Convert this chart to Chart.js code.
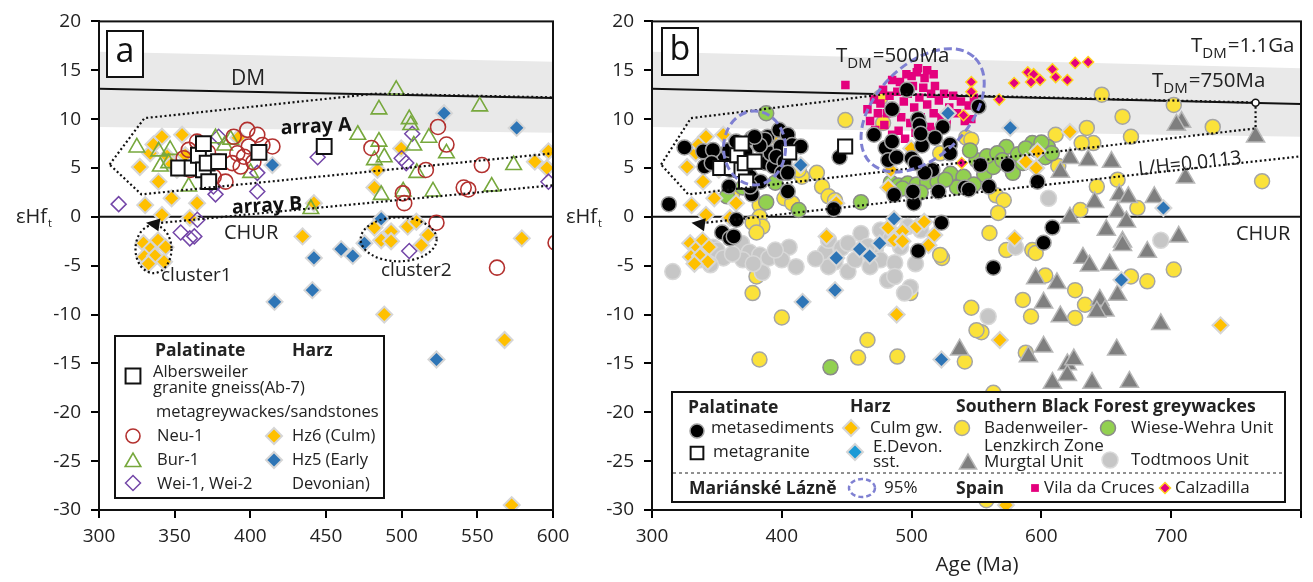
<!DOCTYPE html>
<html><head><meta charset="utf-8">
<script src="https://cdn.jsdelivr.net/npm/chart.js@4.4.1/dist/chart.umd.min.js"></script>
<style>
html,body{margin:0;padding:0;background:#fff;}
#wrap{position:relative;width:1313px;height:582px;overflow:hidden;background:#fff;}
#ca{position:absolute;left:0;top:0;width:600px;height:582px;}
#cb{position:absolute;left:560px;top:0;width:753px;height:582px;}
</style></head><body>
<div id="wrap"><canvas id="ca" width="600" height="582"></canvas><canvas id="cb" width="753" height="582"></canvas></div>
<script>
// ---------- DATA (Age Ma, eHf_t) ----------
const neu1 = [[356,6.0],[359.3,6.85],[364.8,7.7],[367,5.15],[360.4,4.8],[375.8,4.1],[383.6,3.6],[379,5.65],[388,5.5],[393.6,5.15],[391.4,6.5],[389,8.2],[398,8.9],[404.6,8.4],[399,7.2],[408,7.35],[414.6,7.2],[395.8,6.15],[402,5.6],[372,6.6],
 [480,7.05],[524,9.2],[529.6,7.4],[516,4.8],[553,5.3],[541,3.0],[544,2.8],[500.8,2.4],[501.7,1.4],[523,-0.6],[563,-5.2],[608.5,-1.1],[601.7,-2.65]];
const bur1 = [[325,7.1],[339.4,6.7],[347,6.85],[340.5,5.15],[346,5.5],[359.3,3.1],[377,8.05],[387,7.9],[383,7.3],[400.2,4.5],[440,0.8],
 [471,8.4],[482,5.8],[485,11.0],[485,7.7],[486.5,2.25],[488.5,6.1],[496.4,13.0],[501,2.6],[505,10.0],[506,9.4],[508,7.3],[510,4.5],[518,8.1],[520.7,2.6],[529.6,6.5],[551.6,11.3],[559.5,3.1],[574,5.3]];
const wei = [[313,1.3],[354,-1.6],[360,-2.2],[363,-2.0],[365,-0.3],[377,2.3],[375.6,3.1],[379,8.2],[404.6,2.6],[404.6,4.5],[444.5,6.1],[500,6.0],[503,5.5],[507,8.5],[505,-3.5],[597,3.6]];
const albersweiler = [[352.6,5.0],[361.5,5.0],[365.7,6.3],[369,7.5],[369,4.8],[371.5,5.5],[372.5,3.6],[379,5.65],[405.7,6.6],[448.8,7.2]];
const culm = [[327,5.1],[330.5,1.2],[333.8,6.5],[336,7.4],[339.3,3.6],[341.6,8.2],[341.6,0.2],[345,6.2],[348,1.9],[351.5,4.8],[354.9,8.4],[360,-0.1],[364.8,1.4],[348,5.4],[357,6.3],
 [329.4,-2.7],[334,-3.3],[339,-2.4],[344,-3.1],[330,-4.1],[337,-4.0],[343,-4.6],[332.7,-4.8],
 [392,8.1],[442,1.4],[434.5,-2.0],[482,3.0],[484,4.8],[499.7,7.0],[482,-1.1],[486.5,-2.4],[493,-1.5],[493,-2.5],[504,-1.0],[509.7,-0.5],[513,-2.9],[517.5,-1.85],[488.5,-10.0],[568,-12.6],[572.7,-29.5],[579.4,-2.2],[588,5.65],[597,6.7],[596,5.0],[622,8.7],[738,-11.1]];
const eDevon = [[414.6,5.3],[416,-8.7],[441,-7.5],[442,-4.2],[460,-3.3],[467.7,-4.0],[475.4,-2.7],[486.5,-0.2],[523,-14.6],[528,10.6],[576,9.1],[661.6,-6.45],[694,0.9]];
const vilaCruces = [[449,13.5],[466,11.0],[468,9.8],[471,12.0],[474,10.6],[476,11.6],[478,13.0],[479,9.4],[481,10.6],[483,12.4],[485,14.0],[487,11.0],[489,12.8],[491,13.8],[492,10.2],[494,11.8],[496,14.6],[497,12.6],[499,9.6],[501,13.4],[502,11.2],[504,14.8],[506,12.2],[507,10.2],[509,13.2],[510,14.2],[512,11.5],[514,9.2],[515,12.6],[517,10.6],[518,13.4],[520,8.8],[521,11.9],[523,10.2],[525,12.6],[527,9.6],[529,11.2],[532,12.4],[535,10.6],[538,11.8],[541,9.8],[544,11.4],[548,12.2],
 [505,15.2],[512,15.0],[517,14.6],[500,14.4],[485,8.4],[490,8.8],[495,8.0],[503,8.6],[546,10.0],[472,8.9]];
const calzadilla = [[626,15.75],[636,15.85],[579,13.7],[589.5,14.8],[594,14.6],[599,14.0],[608.5,15.1],[611,14.3],[620,14.0],[592,13.8],[567.5,12.0],[546,13.8],[546,12.8],[540,10.4],[538.6,5.5]];
const badenweiler = [[646.5,12.5],[702,11.45],[732,9.2],[662.5,10.25],[669,8.2],[635,9.1],[640,7.55],[631,7.55],[611,8.4],[613,5.2],[658.7,3.8],[642.7,3.1],[770,3.65],[565,2.2],[571,1.7],[566.7,0.4],[630,0.7],[674,0.9],[560,-1.65],[593,-3.4],[573,-3.4],[595.6,-3.7],
 [702,-5.4],[681.6,-6.6],[669,-6.1],[626,-7.5],[633.6,-9.0],[626,-10.35],[592,-10.2],[585.7,-8.5],[603,-6.0],[546,-9.3],[553.8,-11.8],[550,-11.6],[588,-13.9],[541,-14.8],[563,-18.0],[557.6,-29.0],
 [377.5,-7.8],[400,-10.3],[382.8,-14.6],[466,-12.6],[458.8,-14.4],[489,-14.3],[523.4,-4.2],[499,-7.8],[380.5,-6.1],
 [415.5,4.1],[427,4.5],[431,3.1],[436,2.1],[402,1.9],[408,1.4],[383,1.2],[383,0.0],[385,-1.0],[362,2.45],[377.5,-0.6],[380.5,-1.6],[413,4.8],[441,1.7],
 [449,9.9],[478,9.6],[522,6.5],[542,8.1],[546,7.9],[476,12.2],[522,-3.9]];
const wieseWehra = [[388,10.6],[357.8,2.1],[388,1.5],[413,0.7],[375,5.3],[370,3.0],[395,3.5],[400,6.5],[461,1.5],[484,3.5],[490,3.2],[497,3.4],[504,3.3],[512,3.6],[520,3.6],[530,4.4],[540,4.1],[550,5.8],[556,4.3],[563,5.1],[573,7.15],[578,4.5],[585.7,5.5],[593,7.55],[603,6.1],[605,7.15],[437.5,-15.4],
 [545,6.8],[558,6.2],[566,6.5],[570,5.8],[582,6.4],[588,7.0],[597,6.8],[600,7.6],[608,6.5],[548,3.3],[535,3.0],[526,3.8],[507,2.5],[493,2.9]];
const murgtal = [[708,9.7],[704,9.4],[765,8.2],[711,4.0],[622,6.0],[636,5.8],[654,5.6],[614.6,4.6],[641,1.5],[660,2.25],[667,2.0],[687,2.0],[658.7,0.5],[665.5,-0.5],[622,-0.1],[650,-1.35],[662.5,-2.55],[681.6,-3.6],[705.8,-2.05],[632,-4.2],[637,-5.0],[652.6,-4.9],[662.5,-2.9],[595.6,-6.3],[612,-6.8],[658.7,-8.0],[645,-8.5],[649,-9.6],[642.7,-9.7],[601.7,-8.8],[614.6,-10.2],[692,-11.0],[537,-13.6],[601.7,-13.3],[590,-14.3],[658,-13.6],[620,-15.1],[625,-14.6],[620,-16.2],[639,-17.0],[667.8,-16.9],[608.5,-17.0]];
const todtmoos = [[316,-5.6],[337,-4.4],[342.5,-3.7],[347,-3.1],[350,-3.4],[369,-2.7],[375,-3.6],[383,-3.9],[370,-4.4],[385,-5.7],[390,-4.2],[405.6,-3.1],[400,-4.4],[411,-5.1],[433.7,-3.6],[436,-2.4],[441,-4.6],[446,-3.2],[451,-5.6],[451,-2.7],[456.5,-4.4],[461,-1.7],[472,-3.4],[476,-4.4],[476,-1.35],[487,-4.7],[481.6,-6.5],[491.5,-3.1],[487,-6.1],[499,-7.2],[494.5,-7.8],[497,-1.0],[507,-1.35],[436,-5.1],[605.5,1.9],[580,-3.1],[692,-2.4],[559,-10.2],[355,-4.2],[362,-3.8],
 [345,-4.9],[378,-4.8],[395,-3.4],[426,-4.3],[466,-3.0],[468,-5.1],[484,-2.2],[503,-4.8]];
const yTicks = [-30,-25,-20,-15,-10,-5,0,5,10,15,20];
const xTicksA = [300,350,400,450,500,550,600];
const xTicksB = [300,400,500,600,700];

// ---------- helpers ----------
const FONT = '"Open Sans", "Noto Sans", sans-serif';
const toXY = a => a.map(p => ({x: p[0], y: p[1]}));
function ds(data, style, r, fill, border, bw) {
  return {data: toXY(data), pointStyle: style, pointRadius: r, pointHoverRadius: r,
    pointBackgroundColor: fill, pointBorderColor: border, pointBorderWidth: bw, showLine: false};
}
const ORANGE = '#ffc000', BLUE = '#2e75b6', RED = '#b3312f', GREEN = '#77a83d', PURPLE = '#7447a8';
const YELLOW = '#fbe23a', LGREEN = '#92d050', TRI = '#7f7f7f', LGRAY = '#c6c6c6', PINK = '#e4007d';

function mkScales(xmax, xstep, yw, labelsX) {
  return {
    x: {type: 'linear', min: 300, max: xmax,
      ticks: {stepSize: xstep, autoSkip: false, maxRotation: 0, color: '#222', padding: 7,
        font: {family: FONT, size: 19}, callback: v => labelsX.includes(v) ? String(v) : ''},
      grid: {display: true, drawOnChartArea: false, drawTicks: true, tickLength: 8, color: '#000', lineWidth: 2},
      border: {display: true, color: '#000', width: 2},
      afterFit: s => { s.height = 72; }},
    y: {type: 'linear', min: -30, max: 20,
      ticks: {stepSize: 5, autoSkip: false, color: '#222', padding: 10,
        font: {family: FONT, size: 19}, callback: v => yTicks.includes(v) ? String(v) : ''},
      grid: {display: true, drawOnChartArea: false, drawTicks: true, tickLength: 8, color: '#000', lineWidth: 2},
      border: {display: true, color: '#000', width: 2},
      afterFit: s => { s.width = yw; }}
  };
}
const X = (c, v) => c.scales.x.getPixelForValue(v);
const Y = (c, v) => c.scales.y.getPixelForValue(v);
function path(c, pts) { const ctx = c.ctx; ctx.beginPath(); pts.forEach((p, i) => { const x = X(c, p[0]), y = Y(c, p[1]); i ? ctx.lineTo(x, y) : ctx.moveTo(x, y); }); }
function clipArea(c) { const a = c.chartArea, ctx = c.ctx; ctx.beginPath(); ctx.rect(a.left, a.top, a.right - a.left, a.bottom - a.top); ctx.clip(); }
function txt(ctx, s, x, y, size, bold, align, color) {
  ctx.font = (bold ? 'bold ' : '') + size + 'px ' + FONT; ctx.fillStyle = color || '#222';
  ctx.textAlign = align || 'left'; ctx.textBaseline = 'middle'; ctx.fillText(s, x, y);
  return ctx.measureText(s).width;
}
function subTxt(ctx, x, y, main, sub, rest, size) { // T_DM=...
  ctx.textBaseline = 'alphabetic'; ctx.textAlign = 'left'; ctx.fillStyle = '#222';
  ctx.font = size + 'px ' + FONT; ctx.fillText(main, x, y); let w = ctx.measureText(main).width;
  ctx.font = Math.round(size * 0.72) + 'px ' + FONT; ctx.fillText(sub, x + w, y + size * 0.28); w += ctx.measureText(sub).width + 1;
  ctx.font = size + 'px ' + FONT; ctx.fillText(rest, x + w, y);
}
function yTitle(ctx, x, y) { const w = txt(ctx, 'εHf', x, y, 20); txt(ctx, 't', x + w + 1, y + 7, 11); }
function marker(ctx, style, x, y, r, fill, stroke, lw) {
  ctx.save(); ctx.beginPath();
  if (style === 'circle') ctx.arc(x, y, r, 0, Math.PI * 2);
  else if (style === 'rect') { const s = r * Math.SQRT1_2; ctx.rect(x - s, y - s, 2 * s, 2 * s); }
  else if (style === 'rectRot') { ctx.moveTo(x - r, y); ctx.lineTo(x, y - r); ctx.lineTo(x + r, y); ctx.lineTo(x, y + r); ctx.closePath(); }
  else if (style === 'triangle') { ctx.moveTo(x - r * 0.866, y + r * 0.5); ctx.lineTo(x, y - r); ctx.lineTo(x + r * 0.866, y + r * 0.5); ctx.closePath(); }
  if (fill) { ctx.fillStyle = fill; ctx.fill(); }
  if (stroke && lw) { ctx.strokeStyle = stroke; ctx.lineWidth = lw; ctx.stroke(); }
  ctx.restore();
}
function dotted(ctx) { ctx.setLineDash([2, 2.6]); ctx.lineWidth = 2.2; ctx.strokeStyle = '#111'; }

const bgPlugin = {
  id: 'bg',
  beforeDatasetsDraw(c) {
    const ctx = c.ctx; ctx.save(); clipArea(c);
    path(c, [[300, 16.9], [800, 15.2], [800, 8.2], [300, 9.2]]); ctx.closePath(); ctx.fillStyle = '#e9e9e9'; ctx.fill();
    ctx.lineWidth = 2; ctx.strokeStyle = '#111';
    path(c, [[300, 13.1], [800, 11.55]]); ctx.stroke();
    path(c, [[300, 0], [800, 0]]); ctx.stroke();
    ctx.restore();
  }
};
function arrays(c) {
  const ctx = c.ctx; ctx.save(); clipArea(c); dotted(ctx);
  path(c, [[307, 5.35], [330, 10.1], [482, 12.6], [765, 11.7], [765, 9.05], [328, 2.3], [307, 5.35]]); ctx.stroke();
  path(c, [[335, -0.7], [800, 6.2]]); ctx.stroke();
  ctx.setLineDash([]);
  const x0 = X(c, 335), y0 = Y(c, -0.7), x1 = X(c, 800), y1 = Y(c, 6.2);
  const ang = Math.atan2(y0 - y1, x0 - x1) + 0.25;
  const tx = x0 + Math.cos(ang) * 6, ty = y0 + Math.sin(ang) * 6;
  ctx.beginPath(); ctx.moveTo(tx, ty);
  ctx.lineTo(tx - Math.cos(ang - 0.45) * 15, ty - Math.sin(ang - 0.45) * 15);
  ctx.lineTo(tx - Math.cos(ang + 0.45) * 15, ty - Math.sin(ang + 0.45) * 15);
  ctx.closePath(); ctx.fillStyle = '#111'; ctx.fill();
  ctx.restore();
}
function frame(c) { const a = c.chartArea, ctx = c.ctx; ctx.save(); ctx.lineWidth = 2; ctx.strokeStyle = '#111'; ctx.strokeRect(a.left, a.top, a.right - a.left, a.bottom - a.top); ctx.restore(); }
function ellipsePx(ctx, cx, cy, rx, ry, rot) { ctx.beginPath(); ctx.ellipse(cx, cy, rx, ry, rot || 0, 0, Math.PI * 2); }

// ---------- panel a ----------
const fgA = {
  id: 'fgA',
  afterDatasetsDraw(c) {
    const ctx = c.ctx; arrays(c);
    ctx.save(); clipArea(c); dotted(ctx);
    ellipsePx(ctx, X(c, 336), Y(c, -3.3), 18, 24, 0); ctx.stroke();
    ellipsePx(ctx, X(c, 498), Y(c, -2.3), 38, 22, 0); ctx.stroke();
    ctx.restore();
    ctx.save();
    txt(ctx, 'DM', 231, 79, 21);
    txt(ctx, 'CHUR', 224, 233, 20);
    txt(ctx, 'cluster1', 161, 276, 19);
    txt(ctx, 'cluster2', 381, 271, 19);
    ctx.save(); ctx.translate(316, 127); ctx.rotate(-0.05); txt(ctx, 'array A', 0, 0, 19.5, true, 'center', '#111'); ctx.restore();
    ctx.save(); ctx.translate(267, 206); ctx.rotate(-0.06); txt(ctx, 'array B', 0, 0, 19.5, true, 'center', '#111'); ctx.restore();
    ctx.fillStyle = '#fff'; ctx.fillRect(107, 31, 36, 46); ctx.lineWidth = 2; ctx.strokeStyle = '#111'; ctx.strokeRect(107, 31, 36, 46);
    txt(ctx, 'a', 125, 52, 34, false, 'center', '#111');
    yTitle(ctx, 16, 217);
    // legend
    ctx.fillStyle = '#fff'; ctx.fillRect(115, 336, 269, 162); ctx.lineWidth = 2; ctx.strokeStyle = '#111'; ctx.strokeRect(115, 336, 269, 162);
    txt(ctx, 'Palatinate', 155, 351, 17.5, true); txt(ctx, 'Harz', 292, 351, 17.5, true);
    marker(ctx, 'rect', 133, 376, 10.5, '#fff', '#111', 2);
    txt(ctx, 'Albersweiler', 153, 372, 16.5); txt(ctx, 'granite gneiss(Ab-7)', 153, 388, 16.5);
    txt(ctx, 'metagreywackes/sandstones', 156, 412, 16.5);
    marker(ctx, 'circle', 133, 436, 7, null, RED, 1.6); txt(ctx, 'Neu-1', 157, 436, 16.5);
    marker(ctx, 'rectRot', 274, 436, 8, ORANGE, '#d6d6d6', 2); txt(ctx, 'Hz6 (Culm)', 292, 436, 16.5);
    marker(ctx, 'triangle', 133, 462, 9, null, GREEN, 1.6); txt(ctx, 'Bur-1', 157, 460, 16.5);
    marker(ctx, 'rectRot', 274, 460, 8, BLUE, '#d6d6d6', 2); txt(ctx, 'Hz5 (Early', 292, 460, 16.5);
    marker(ctx, 'rectRot', 133, 483, 7.5, null, PURPLE, 1.5); txt(ctx, 'Wei-1, Wei-2', 157, 484, 16.5);
    txt(ctx, 'Devonian)', 292, 484, 16.5);
    ctx.restore();
    frame(c);
  }
};

// ---------- panel b ----------
const fgB = {
  id: 'fgB',
  afterDatasetsDraw(c) {
    const ctx = c.ctx; arrays(c);
    ctx.save(); clipArea(c);
    ctx.beginPath(); ctx.arc(X(c, 765), Y(c, 11.67), 3.5, 0, Math.PI * 2); ctx.fillStyle = '#fff'; ctx.fill(); ctx.lineWidth = 1.5; ctx.strokeStyle = '#111'; ctx.stroke();
    ctx.setLineDash([8, 4]); ctx.lineWidth = 3; ctx.strokeStyle = '#7f80d2';
    ellipsePx(ctx, X(c, 379), Y(c, 7.05), 31, 37, 0); ctx.stroke();
    ellipsePx(ctx, X(c, 508.5), Y(c, 10.9), 74, 46, -Math.PI / 4); ctx.stroke();
    ctx.restore();
    ctx.save();
    ctx.translate(-560, 0);
    subTxt(ctx, 836, 62, 'T', 'DM', '=500Ma', 20.5);
    subTxt(ctx, 1191, 52, 'T', 'DM', '=1.1Ga', 20.5);
    subTxt(ctx, 1152, 87, 'T', 'DM', '=750Ma', 20.5);
    ctx.save(); ctx.translate(1190, 164); ctx.rotate(-0.11); txt(ctx, 'L/H=0.0113', 0, 0, 19.5, false, 'center'); ctx.restore();
    txt(ctx, 'CHUR', 1236, 234, 20);
    ctx.fillStyle = '#fff'; ctx.fillRect(662, 28, 36, 47); ctx.lineWidth = 2; ctx.strokeStyle = '#111'; ctx.strokeRect(662, 28, 36, 47);
    txt(ctx, 'b', 680, 50, 34, false, 'center', '#111');
    yTitle(ctx, 566, 217);
    txt(ctx, 'Age (Ma)', 977, 565, 20.5, false, 'center');
    // legend
    ctx.fillStyle = '#fff'; ctx.fillRect(672, 392, 613, 110); ctx.lineWidth = 2; ctx.strokeStyle = '#111'; ctx.strokeRect(672, 392, 613, 110);
    txt(ctx, 'Palatinate', 688, 408, 17.5, true); txt(ctx, 'Harz', 850, 407, 17.5, true); txt(ctx, 'Southern Black Forest greywackes', 956, 407, 17.5, true);
    marker(ctx, 'circle', 697, 431, 7, '#000', '#a0a0a0', 1.5); txt(ctx, 'metasediments', 711, 428, 17);
    marker(ctx, 'rectRot', 851, 428, 8, ORANGE, '#d6d6d6', 2); txt(ctx, 'Culm gw.', 870, 428, 17);
    marker(ctx, 'circle', 962, 428, 7.5, YELLOW, '#a5a5a5', 1.5); txt(ctx, 'Badenweiler-', 984, 428, 17);
    marker(ctx, 'circle', 1108, 428, 7.5, LGREEN, '#8a8a8a', 1.5); txt(ctx, 'Wiese-Wehra Unit', 1131, 428, 17);
    marker(ctx, 'rect', 697, 453, 9, '#fff', '#111', 2); txt(ctx, 'metagranite', 713, 452, 17);
    marker(ctx, 'rectRot', 855, 452, 8, '#1b9ad6', '#d6d6d6', 2); txt(ctx, 'E.Devon.', 873, 447, 17); txt(ctx, 'sst.', 873, 462, 17);
    txt(ctx, 'Lenzkirch Zone', 984, 446, 17);
    marker(ctx, 'triangle', 968, 464, 10, TRI, '#b8b8b8', 1.5); txt(ctx, 'Murgtal Unit', 984, 462, 17);
    marker(ctx, 'circle', 1110, 460, 8, LGRAY, '#dadada', 1.5); txt(ctx, 'Todtmoos Unit', 1131, 460, 17);
    ctx.setLineDash([3, 3]); ctx.lineWidth = 1.2; ctx.strokeStyle = '#222'; ctx.beginPath(); ctx.moveTo(673, 473); ctx.lineTo(1284, 473); ctx.stroke();
    ctx.setLineDash([5, 3]); ctx.lineWidth = 2.5; ctx.strokeStyle = '#7f80d2'; ellipsePx(ctx, 862, 488, 13, 9, 0); ctx.stroke(); ctx.setLineDash([]);
    txt(ctx, 'Mariánské Lázně', 689, 489, 17.5, true); txt(ctx, '95%', 884, 488, 17);
    txt(ctx, 'Spain', 956, 489, 17.5, true);
    marker(ctx, 'rect', 1035, 488, 5.5, PINK, null, 0); txt(ctx, 'Vila da Cruces', 1044, 488, 17);
    marker(ctx, 'rectRot', 1165, 488, 5.5, PINK, '#ffd21f', 1.5); txt(ctx, 'Calzadilla', 1175, 488, 17);
    ctx.restore();
    frame(c);
  }
};

const common = {responsive: false, animation: false, events: [],
  plugins: {legend: {display: false}, tooltip: {enabled: false}}};

new Chart(document.getElementById('ca'), {
  type: 'scatter',
  data: {datasets: [
    ds(albersweiler, 'rect', 10.5, '#fff', '#111', 2),
    ds(neu1, 'circle', 7.5, 'rgba(0,0,0,0)', RED, 1.6),
    ds(bur1, 'triangle', 9, 'rgba(0,0,0,0)', GREEN, 1.6),
    ds(wei, 'rectRot', 7.5, 'rgba(0,0,0,0)', PURPLE, 1.5),
    ds(eDevon, 'rectRot', 8, BLUE, '#d6d6d6', 2),
    ds(culm, 'rectRot', 8, ORANGE, '#d6d6d6', 2)
  ]},
  options: Object.assign({}, common, {layout: {padding: {left: 0, top: 21, right: 47, bottom: 0}},
    scales: mkScales(600, 50, 99, xTicksA)}),
  plugins: [bgPlugin, fgA]
});

new Chart(document.getElementById('cb'), {
  type: 'scatter',
  data: {datasets: [
    ds(albersweiler, 'rect', 10, '#fff', '#111', 2),
    ds(neu1.concat(bur1, wei), 'circle', 7.5, '#000', '#a0a0a0', 1.5),
    ds(eDevon, 'rectRot', 8, BLUE, '#d6d6d6', 2),
    ds(culm, 'rectRot', 8, ORANGE, '#d6d6d6', 2),
    ds(calzadilla, 'rectRot', 5.5, PINK, '#ffd21f', 1.5),
    ds(vilaCruces, 'rect', 6, PINK, PINK, 0),
    ds(wieseWehra, 'circle', 7.5, LGREEN, '#8a8a8a', 1.5),
    ds(murgtal, 'triangle', 10.5, TRI, '#b8b8b8', 1.5),
    ds(todtmoos, 'circle', 8, LGRAY, '#d8d8d8', 1.5),
    ds(badenweiler, 'circle', 7.5, YELLOW, '#a5a5a5', 1.5)
  ]},
  options: Object.assign({}, common, {layout: {padding: {left: 0, top: 21, right: 4, bottom: 0}},
    scales: mkScales(800, 100, 92, xTicksB)}),
  plugins: [bgPlugin, fgB]
});
</script>
</body></html>
